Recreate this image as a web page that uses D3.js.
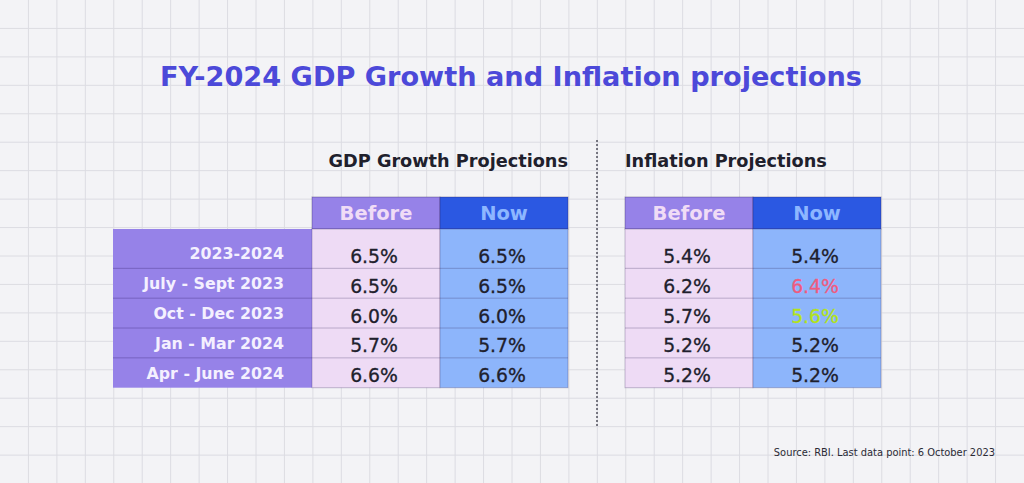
<!DOCTYPE html>
<html><head><meta charset="utf-8">
<script src="https://cdn.jsdelivr.net/npm/d3@7"></script>
<style>body{margin:0;background:#f3f3f6;}svg{display:block;}</style>
</head><body>
<script>
const title = "FY-2024 GDP Growth and Inflation projections";
const source = "Source: RBI. Last data point: 6 October 2023";
const periods = ["2023-2024", "July - Sept 2023", "Oct - Dec 2023", "Jan - Mar 2024", "Apr - June 2024"];
const columns = ["Before", "Now"];
const gdpBefore = [6.5, 6.5, 6.0, 5.7, 6.6];
const gdpNow = [6.5, 6.5, 6.0, 5.7, 6.6];
const inflBefore = [5.4, 6.2, 5.7, 5.2, 5.2];
const inflNow = [5.4, 6.4, 5.6, 5.2, 5.2];

const W = 1024, H = 483;
const svg = d3.select("body").append("svg").attr("width", W).attr("height", H);
svg.append("rect").attr("width", W).attr("height", H).attr("fill", "#f3f3f6");

// grid
const gs = W / 36;
const g = svg.append("g").attr("stroke", "#dcdce2").attr("stroke-width", 1);
d3.range(1, 36).forEach(i => g.append("line").attr("x1", i * gs).attr("x2", i * gs).attr("y1", 0).attr("y2", H));
d3.range(1, 17).forEach(i => g.append("line").attr("y1", i * gs).attr("y2", i * gs).attr("x1", 0).attr("x2", W));

const font = "'DejaVu Sans', sans-serif";
function fit(sel, target) {
  const w = sel.node().getComputedTextLength();
  const fs = parseFloat(sel.attr("font-size"));
  sel.attr("font-size", fs * target / w);
  return sel;
}
fit(svg.append("text").attr("x", 511).attr("y", 86).attr("text-anchor", "middle")
  .attr("font-family", font).attr("font-weight", 700).attr("font-size", 26)
  .attr("fill", "#4c49d9").text(title), 702);

const y = d3.scaleBand().domain(periods).range([238.5, 387.7]).paddingInner(0).paddingOuter(0);
const headerTop = 197, headerBottom = 229;
const text = "#20202c";
const lineCol = "rgba(50,40,90,0.28)";

// label column
svg.append("rect").attr("x", 113).attr("y", headerBottom).attr("width", 312 - 113).attr("height", y.range()[1] - headerBottom).attr("fill", "#9682e8");
periods.forEach((p, i) => {
  const top = i === 0 ? headerBottom : y(p);
  const bot = y(p) + y.bandwidth();
  if (i > 0) svg.append("line").attr("x1", 113).attr("x2", 312).attr("y1", top).attr("y2", top).attr("stroke", "rgba(60,40,120,0.35)");
  svg.append("text").attr("x", 284).attr("y", bot - 9).attr("text-anchor", "end")
    .attr("font-family", font).attr("font-weight", 700).attr("font-size", 15.8).attr("fill", "#f4f0ff").text(p);
});

function table(x0, x1, before, now, sectionTitle, titleAnchor) {
  const x = d3.scaleBand().domain(columns).range([x0, x1]);
  const hdrFill = {Before: "#9682e8", Now: "#2b58e2"};
  const hdrText = {Before: "#f0dcf6", Now: "#8db6ff"};
  const cellFill = {Before: "#eedbf5", Now: "#8db5fb"};
  svg.append("text").attr("x", titleAnchor === "end" ? x1 : x0).attr("y", 167).attr("text-anchor", titleAnchor)
    .attr("font-family", font).attr("font-weight", 700).attr("font-size", 17.7).attr("fill", text).text(sectionTitle);
  columns.forEach(c => {
    svg.append("rect").attr("x", x(c)).attr("y", headerTop).attr("width", x.bandwidth()).attr("height", headerBottom - headerTop)
      .attr("fill", hdrFill[c]).attr("stroke", "rgba(40,30,90,0.35)");
    svg.append("text").attr("x", x(c) + x.bandwidth() / 2).attr("y", 220).attr("text-anchor", "middle")
      .attr("font-family", font).attr("font-weight", 700).attr("font-size", 19.5).attr("fill", hdrText[c]).text(c);
    svg.append("rect").attr("x", x(c)).attr("y", headerBottom).attr("width", x.bandwidth()).attr("height", y.range()[1] - headerBottom)
      .attr("fill", cellFill[c]).attr("stroke", lineCol);
  });
  periods.forEach((p, i) => {
    const bot = y(p) + y.bandwidth();
    if (i > 0) svg.append("line").attr("x1", x0).attr("x2", x1).attr("y1", y(p)).attr("y2", y(p)).attr("stroke", lineCol);
    [[before, "Before"], [now, "Now"]].forEach(([arr, c]) => {
      let col = text;
      if (c === "Now" && arr[i] > before[i]) col = "#ef5b7f";
      if (c === "Now" && arr[i] < before[i]) col = "#b3e21c";
      svg.append("text").attr("x", x(c) + x.bandwidth() / 2 - 2).attr("y", bot - 5.5).attr("text-anchor", "middle")
        .attr("font-family", font).attr("font-size", 18.8).attr("fill", col)
        .attr("stroke", col).attr("stroke-width", 0.3)
        .text(d3.format(".1f")(arr[i]) + "%");
    });
  });
}
table(312, 568, gdpBefore, gdpNow, "GDP Growth Projections", "end");
table(625, 881, inflBefore, inflNow, "Inflation Projections", "start");

svg.append("line").attr("x1", 597).attr("x2", 597).attr("y1", 140).attr("y2", 428)
  .attr("stroke", "#3a3a48").attr("stroke-width", 1.3).attr("stroke-dasharray", "2,2");

svg.append("text").attr("x", 995).attr("y", 456).attr("text-anchor", "end")
  .attr("font-family", font).attr("font-size", 9.9).attr("fill", "#2a2a35").text(source);
</script>
</body></html>
